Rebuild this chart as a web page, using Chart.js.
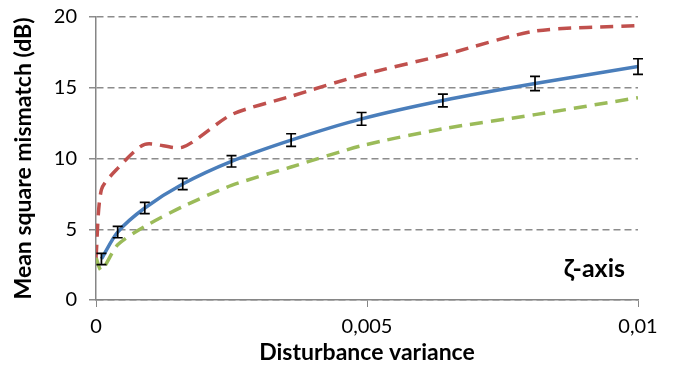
<!DOCTYPE html>
<html>
<head>
<meta charset="utf-8">
<script src="https://cdn.jsdelivr.net/npm/chart.js@4/dist/chart.umd.min.js"></script>
<style>
  html, body { margin: 0; padding: 0; background: #fff; }
  #wrap { width: 678px; height: 367px; position: relative; }
</style>
</head>
<body>
<div id="wrap"><canvas id="c"></canvas></div>
<script>
const X_VALUES = [0.0001, 0.0004, 0.0009, 0.0016, 0.0025, 0.0036, 0.0049, 0.0064, 0.0081, 0.01];
const BLUE_Y = [2.9, 4.8, 6.5, 8.2, 9.8, 11.3, 12.8, 14.1, 15.3, 16.5];
const BLUE_ERR = [0.4, 0.4, 0.4, 0.4, 0.4, 0.45, 0.45, 0.45, 0.5, 0.55];
const UPPER_X = [0, 0.0001, 0.0004, 0.0009, 0.0016, 0.0025, 0.0036, 0.0049, 0.0064, 0.0081, 0.01];
const UPPER_Y = [3.0, 7.8, 9.3, 11.0, 10.8, 13.1, 14.4, 15.9, 17.3, 19.0, 19.4];
const LOWER_X = [0, 0.0001, 0.0004, 0.0009, 0.0016, 0.0025, 0.0036, 0.0049, 0.0064, 0.0081, 0.01];
const LOWER_Y = [3.0, 2.1, 3.9, 5.2, 6.6, 8.1, 9.4, 10.9, 12.1, 13.1, 14.3];
const X_TICKS = [0, 0.005, 0.01];
const Y_TICKS = [0, 5, 10, 15, 20];
const LABEL = 'ζ-axis';

const FONT = "Lato, 'Open Sans', sans-serif";
const pts = (xs, ys) => xs.map((x, i) => ({ x, y: ys[i] }));

const errorBars = {
  id: 'errorBars',
  afterDatasetsDraw(chart) {
    const { ctx, scales } = chart;
    ctx.save();
    ctx.strokeStyle = '#000';
    ctx.lineWidth = 1.7;
    X_VALUES.forEach((x, i) => {
      const px = scales.x.getPixelForValue(x);
      const top = scales.y.getPixelForValue(BLUE_Y[i] + BLUE_ERR[i]);
      const bot = scales.y.getPixelForValue(BLUE_Y[i] - BLUE_ERR[i]);
      ctx.beginPath();
      ctx.moveTo(px, top); ctx.lineTo(px, bot);
      ctx.moveTo(px - 5, top); ctx.lineTo(px + 5, top);
      ctx.moveTo(px - 5, bot); ctx.lineTo(px + 5, bot);
      ctx.stroke();
    });
    ctx.restore();
  }
};

const cornerLabel = {
  id: 'cornerLabel',
  afterDraw(chart) {
    const { ctx, chartArea } = chart;
    ctx.save();
    ctx.font = 'bold 25px ' + FONT;
    ctx.fillStyle = '#000';
    ctx.textAlign = 'right';
    ctx.textBaseline = 'middle';
    ctx.fillText(LABEL, chartArea.right - 13, chartArea.bottom - 31);
    ctx.restore();
  }
};

new Chart(document.getElementById('c'), {
  type: 'line',
  data: {
    datasets: [
      {
        label: 'upper',
        data: pts(UPPER_X, UPPER_Y),
        borderColor: '#c0504d',
        borderWidth: 3.5,
        borderDash: [13, 8],
        pointRadius: 0,
        tension: 0.25,
      },
      {
        label: 'lower',
        data: pts(LOWER_X, LOWER_Y),
        borderColor: '#9bbb59',
        borderWidth: 3.5,
        borderDash: [13, 8],
        pointRadius: 0,
        tension: 0.25,
      },
      {
        label: 'mean',
        data: pts(X_VALUES, BLUE_Y),
        borderColor: '#4a7ebb',
        borderWidth: 3.5,
        pointRadius: 0,
        tension: 0.3,
      },
    ],
  },
  options: {
    responsive: true,
    maintainAspectRatio: false,
    animation: false,
    events: [],
    layout: { padding: { left: 0, right: 40, top: 17, bottom: 0 } },
    plugins: { legend: { display: false }, tooltip: { enabled: false } },
    scales: {
      x: {
        type: 'linear',
        min: 0,
        max: 0.01,
        afterBuildTicks: s => { s.ticks = X_TICKS.map(v => ({ value: v })); },
        afterFit: s => { s.height = 67; s.paddingRight = 0; s.paddingLeft = 0; },
        ticks: {
          color: '#000',
          font: { family: FONT, size: 20 },
          padding: 8,
          maxRotation: 0,
          callback: v => String(v).replace('.', ','),
        },
        grid: { drawOnChartArea: false, color: '#868686', tickLength: 7 },
        border: { color: '#868686', width: 1.5 },
        title: {
          display: true,
          text: 'Disturbance variance',
          color: '#000',
          font: { family: FONT, size: 23, weight: 'bold' },
          padding: { top: 0, bottom: 1 },
        },
      },
      y: {
        min: 0,
        max: 20,
        afterBuildTicks: s => { s.ticks = Y_TICKS.map(v => ({ value: v })); },
        afterFit: s => { s.width = 96; s.paddingTop = 0; s.paddingBottom = 0; },
        ticks: {
          color: '#000',
          font: { family: FONT, size: 20 },
          padding: 12,
        },
        grid: { color: '#8c8c8c', lineWidth: 1.5, tickLength: 7, tickBorderDash: [] },
        border: { color: '#868686', width: 1.5, dash: [7, 4] },
        title: {
          display: true,
          text: 'Mean square mismatch (dB)',
          color: '#000',
          font: { family: FONT, size: 23, weight: 'bold' },
          padding: { top: 10, bottom: 0 },
        },
      },
    },
  },
  plugins: [errorBars, cornerLabel],
});
</script>
</body>
</html>
